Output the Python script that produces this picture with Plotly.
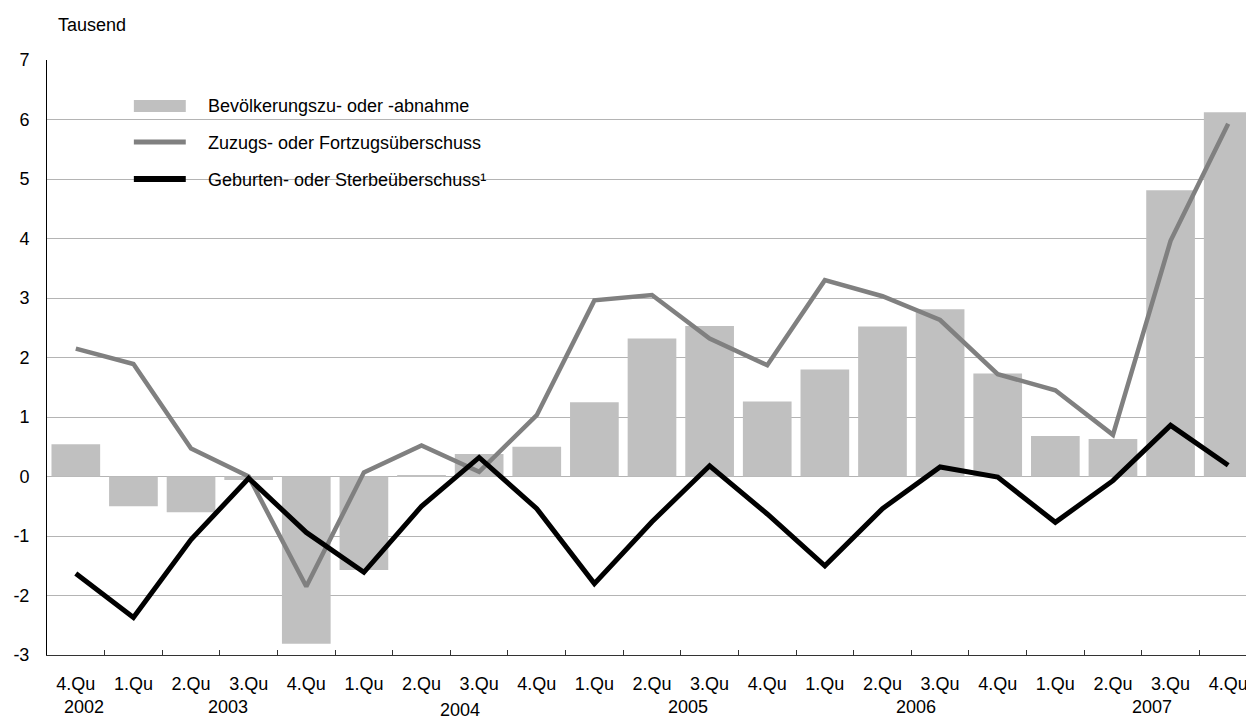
import plotly.graph_objects as go

# ---- data ----
quarters = ["4.Qu", "1.Qu", "2.Qu", "3.Qu", "4.Qu", "1.Qu", "2.Qu", "3.Qu", "4.Qu",
            "1.Qu", "2.Qu", "3.Qu", "4.Qu", "1.Qu", "2.Qu", "3.Qu", "4.Qu",
            "1.Qu", "2.Qu", "3.Qu", "4.Qu"]
quarter_years = [2002, 2003, 2003, 2003, 2003, 2004, 2004, 2004, 2004,
                 2005, 2005, 2005, 2005, 2006, 2006, 2006, 2006,
                 2007, 2007, 2007, 2007]
categories = [f"{q} {y}" for q, y in zip(quarters, quarter_years)]

bevoelkerung = [0.54, -0.50, -0.60, -0.06, -2.81, -1.57, 0.02, 0.38, 0.50,
                1.25, 2.32, 2.53, 1.26, 1.80, 2.52, 2.81, 1.73,
                0.68, 0.63, 4.81, 6.12]
wanderung = [2.15, 1.89, 0.47, 0.00, -1.85, 0.07, 0.52, 0.08, 1.03,
             2.96, 3.05, 2.32, 1.87, 3.30, 3.03, 2.63, 1.72,
             1.45, 0.70, 3.96, 5.93]
natuerlich = [-1.63, -2.37, -1.06, -0.03, -0.94, -1.61, -0.50, 0.32, -0.54,
              -1.80, -0.76, 0.18, -0.63, -1.50, -0.54, 0.16, -0.01,
              -0.77, -0.07, 0.86, 0.19]

series_names = ["Bevölkerungszu- oder -abnahme",
                "Zuzugs- oder Fortzugsüberschuss",
                "Geburten- oder Sterbeüberschuss¹"]
year_labels = ["2002", "2003", "2004", "2005", "2006", "2007"]
y_ticks = [-3, -2, -1, 0, 1, 2, 3, 4, 5, 6, 7]

# ---- styling / layout ----
FONT = "Liberation Sans, Arial, sans-serif"
FS = 18
BAR_COLOR = "#c0c0c0"
GREY_LINE = "#808080"
BLACK_LINE = "#000000"
W, H = 1254, 718
L, R, T, B = 37, 5, 52, 71
PW, PH = W - L - R, H - T - B

def px_x(px):
    return (px - L) / PW

def px_y(py):
    return (H - B - py) / PH

fig = go.Figure()
fig.add_trace(go.Bar(x=categories, y=bevoelkerung, name=series_names[0],
                     marker=dict(color=BAR_COLOR, line=dict(width=0)),
                     showlegend=False))
fig.add_trace(go.Scatter(x=categories, y=wanderung, name=series_names[1],
                         mode="lines", line=dict(color=GREY_LINE, width=4.5),
                         showlegend=False))
fig.add_trace(go.Scatter(x=categories, y=natuerlich, name=series_names[2],
                         mode="lines", line=dict(color=BLACK_LINE, width=5),
                         showlegend=False))

# white box behind the legend (covers gridlines)
shapes = [dict(type="rect", xref="paper", yref="paper", layer="between",
               x0=px_x(73), x1=px_x(528), y0=px_y(200), y1=px_y(76),
               fillcolor="white", line=dict(width=0))]
# legend swatches
shapes.append(dict(type="rect", xref="paper", yref="paper", layer="above",
                   x0=px_x(124), x1=px_x(176), y0=px_y(104), y1=px_y(92),
                   fillcolor=BAR_COLOR, line=dict(width=0)))
shapes.append(dict(type="line", xref="paper", yref="paper", layer="above",
                   x0=px_x(124), x1=px_x(176), y0=px_y(134), y1=px_y(134),
                   line=dict(color=GREY_LINE, width=5)))
shapes.append(dict(type="line", xref="paper", yref="paper", layer="above",
                   x0=px_x(124), x1=px_x(176), y0=px_y(171), y1=px_y(171),
                   line=dict(color=BLACK_LINE, width=6)))

annotations = []
for name, py in zip(series_names, [98, 135, 172]):
    annotations.append(dict(text=name, xref="paper", yref="paper",
                            x=px_x(196), y=px_y(py), xanchor="left", yanchor="middle",
                            showarrow=False, font=dict(size=FS, color="black", family=FONT)))
annotations.append(dict(text="Tausend", xref="paper", yref="paper",
                        x=px_x(46), y=px_y(17), xanchor="left", yanchor="middle",
                        showarrow=False, font=dict(size=FS, color="black", family=FONT)))

# year labels under the quarter labels (positions in category units)
year_pos = [0.14, 2.64, 6.66, 10.62, 14.59, 18.68]
year_py = [699, 699, 702, 699, 699, 699]
n = len(categories)
for lab, pos, py in zip(year_labels, year_pos, year_py):
    annotations.append(dict(text=lab, xref="paper", yref="paper",
                            x=(pos + 0.5) / n, y=px_y(py), xanchor="center", yanchor="middle",
                            showarrow=False, borderpad=0,
                            font=dict(size=FS, color="black", family=FONT)))

fig.update_layout(
    width=W, height=H,
    margin=dict(l=L, r=R, t=T, b=B),
    paper_bgcolor="white", plot_bgcolor="white",
    font=dict(family=FONT, size=FS, color="black"),
    bargap=0.155,
    shapes=shapes, annotations=annotations,
    showlegend=False,
)
fig.update_xaxes(
    type="category", tickvals=categories, ticktext=quarters,
    tickson="boundaries", ticks="inside", ticklen=5, tickcolor="#333333",
    showline=True, linecolor="#333333", linewidth=1,
    showgrid=False, ticklabelstandoff=12,
    tickfont=dict(size=FS, family=FONT, color="black"),
    range=[-0.5, n - 0.5],
)
fig.update_yaxes(
    range=[-3, 7], tickvals=y_ticks, ticktext=[str(v) for v in y_ticks],
    ticks="", showline=True, linecolor="black", linewidth=1,
    showgrid=True, gridcolor="#b4b4b4", gridwidth=1, zeroline=False,
    ticklabelstandoff=13,
    tickfont=dict(size=FS, family=FONT, color="black"),
)

fig.write_html("out.html")
